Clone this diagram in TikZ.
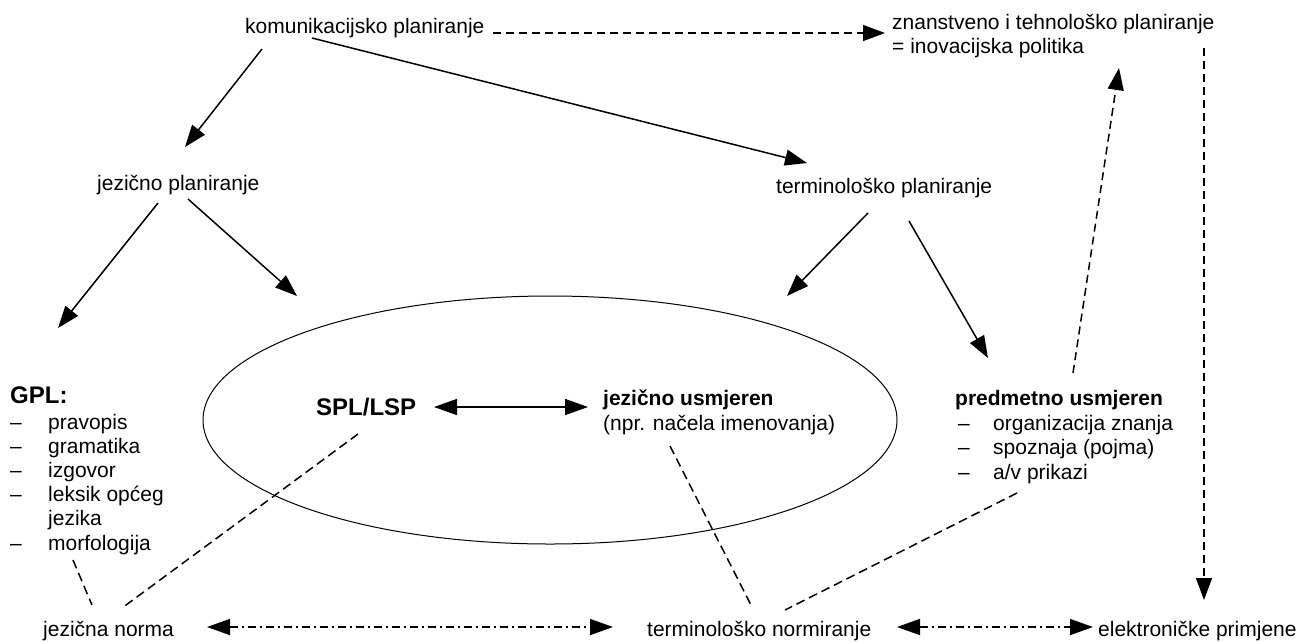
\documentclass[tikz,border=0pt]{standalone}
\usepackage{fontspec}
\setmainfont{Liberation Sans}
\usetikzlibrary{arrows.meta,shapes.geometric}
\begin{document}
\begin{tikzpicture}[x=1pt,y=-1pt,
  txt/.style={anchor=base west,inner sep=0pt,font=\fontsize{21}{24.5}\selectfont},
  bld/.style={anchor=base west,inner sep=0pt,font=\fontsize{21}{24.5}\selectfont\bfseries},
  bigb/.style={anchor=base west,inner sep=0pt,font=\fontsize{24}{28}\selectfont\bfseries},
  head/.style={-{Triangle[length=22pt,width=16pt]}},
  heads/.style={{Triangle[length=23pt,width=16pt]}-{Triangle[length=23pt,width=16pt]}},
  solidarrow/.style={line width=1.5pt,head},
  dashedarrow/.style={line width=1.5pt,head,dash pattern=on 8pt off 5pt},
  dashline/.style={line width=1.5pt,dash pattern=on 9pt off 5pt},
  dotdash/.style={line width=1.5pt,heads,dash pattern=on 8pt off 4pt on 2pt off 4pt},
  oval/.style={draw,line width=1pt}
]
\useasboundingbox (0,0) rectangle (1301,641);

% texts
\node[txt] (komun) at (245,33) {komunikacijsko planiranje};
\node[txt] (zn1) at (892,29) {znanstveno i tehnološko planiranje};
\node[txt] (zn2) at (892,53) {= inovacijska politika};
\node[txt] (jp) at (97,190) {jezično planiranje};
\node[txt] (tp) at (776,193) {terminološko planiranje};

\node[bigb] (gpl) at (10,403) {GPL:};
\node[txt] (g1) at (10,429) {\makebox[38pt][l]{–}pravopis};
\node[txt] (g2) at (10,453.2) {\makebox[38pt][l]{–}gramatika};
\node[txt] (g3) at (10,477.4) {\makebox[38pt][l]{–}izgovor};
\node[txt] (g4) at (10,501.6) {\makebox[38pt][l]{–}leksik općeg};
\node[txt] (g5) at (10,525.8) {\makebox[38pt][l]{}jezika};
\node[txt] (g6) at (10,550) {\makebox[38pt][l]{–}morfologija};

\node[oval,ellipse,minimum width=694pt,minimum height=248pt,inner sep=0pt] (ell) at (550,420) {};

\node[bigb] (spl) at (316,415) {SPL/LSP};
\node[bld] (ju) at (603,405) {jezično usmjeren};
\node[txt] (npr) at (603,430) {(npr. načela imenovanja)};

\node[bld] (pu) at (955,405) {predmetno usmjeren};
\node[txt] (p1) at (958,430) {\makebox[35pt][l]{–}organizacija znanja};
\node[txt] (p2) at (958,454.5) {\makebox[35pt][l]{–}spoznaja (pojma)};
\node[txt] (p3) at (958,479) {\makebox[35pt][l]{–}a/v prikazi};

\node[txt] (jn) at (43,636) {jezična norma};
\node[txt] (tn) at (647,636) {terminološko normiranje};
\node[txt] (ep) at (1098,636) {elektroničke primjene};

% connector end points
\coordinate (k1) at (262,49);
\coordinate (k2) at (312,38);
\coordinate (k3) at (493,33);
\coordinate (jpin) at (185,147);
\coordinate (tpin) at (807,163);
\coordinate (znin) at (885,33);
\coordinate (jpa) at (158,203);
\coordinate (jpb) at (188,199);
\coordinate (gplin) at (58,328);
\coordinate (ellin1) at (297,296);
\coordinate (tpa) at (868,213);
\coordinate (tpb) at (909,221);
\coordinate (ellin2) at (787,296);
\coordinate (puin) at (988,358);
\coordinate (splr) at (434,407);
\coordinate (jul) at (588,407);
\coordinate (puup) at (1073,373);
\coordinate (znup) at (1119,68);
\coordinate (zndown) at (1204,48);
\coordinate (epin) at (1204,600);
\coordinate (spld) at (358,434);
\coordinate (jnr) at (122,608);
\coordinate (morf) at (73,560);
\coordinate (jnl) at (92,605);
\coordinate (nprd) at (670,446);
\coordinate (tnl) at (752,607);
\coordinate (pud) at (1017,493);
\coordinate (tnr) at (785,610);
\coordinate (jnarr) at (207,627);
\coordinate (tnarrl) at (613,627);
\coordinate (tnarrr) at (897,627);
\coordinate (eparr) at (1093,627);

% connectors
\draw[solidarrow] (k1) -- (jpin);
\draw[solidarrow] (k2) -- (tpin);
\draw[dashedarrow] (k3) -- (znin);
\draw[solidarrow] (jpa) -- (gplin);
\draw[solidarrow] (jpb) -- (ellin1);
\draw[solidarrow] (tpa) -- (ellin2);
\draw[solidarrow] (tpb) -- (puin);
\draw[line width=1.5pt,heads] (splr) -- (jul);
\draw[dashedarrow] (puup) -- (znup);
\draw[dashedarrow] (zndown) -- (epin);
\draw[dashline] (spld) -- (jnr);
\draw[dashline] (morf) -- (jnl);
\draw[dashline] (nprd) -- (tnl);
\draw[dashline] (pud) -- (tnr);
\draw[dotdash] (jnarr) -- (tnarrl);
\draw[dotdash] (tnarrr) -- (eparr);
\end{tikzpicture}
\end{document}
